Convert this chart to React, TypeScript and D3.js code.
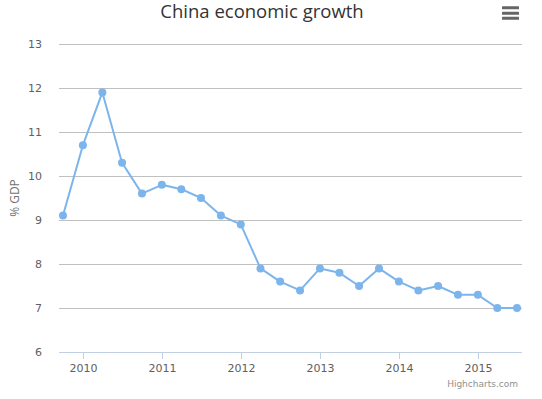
import React from "react";
import * as d3 from "d3";

const quarters: string[] = [
  "2009-10-01", "2010-01-01", "2010-04-01", "2010-07-01",
  "2010-10-01", "2011-01-01", "2011-04-01", "2011-07-01",
  "2011-10-01", "2012-01-01", "2012-04-01", "2012-07-01",
  "2012-10-01", "2013-01-01", "2013-04-01", "2013-07-01",
  "2013-10-01", "2014-01-01", "2014-04-01", "2014-07-01",
  "2014-10-01", "2015-01-01", "2015-04-01", "2015-07-01",
];
const growth: number[] = [
  9.1, 10.7, 11.9, 10.3, 9.6, 9.8, 9.7, 9.5, 9.1, 8.9, 7.9, 7.6,
  7.4, 7.9, 7.8, 7.5, 7.9, 7.6, 7.4, 7.5, 7.3, 7.3, 7.0, 7.0,
];
const yTicks: number[] = [6, 7, 8, 9, 10, 11, 12, 13];
const xTickYears: number[] = [2010, 2011, 2012, 2013, 2014, 2015];
const titleText = "China economic growth";
const yAxisTitle = "% GDP";
const creditText = "Highcharts.com";

const W = 542;
const H = 399;
const plotLeft = 59;
const plotRight = 522;
const plotTop = 44;
const plotBottom = 352;

const parse = d3.utcParse("%Y-%m-%d");

export default function App() {
  const dates = quarters.map((q) => parse(q) as Date);
  const x = d3
    .scaleUtc()
    .domain([dates[0], dates[dates.length - 1]])
    .range([63, 517]);
  const y = d3.scaleLinear().domain([6, 13]).range([plotBottom, plotTop]);
  const pts = dates.map((d, i) => [x(d), y(growth[i])] as [number, number]);
  const line = d3.line<[number, number]>()(pts) || "";
  const font = "'Open Sans', 'DejaVu Sans', sans-serif";
  const axisFont = "'DejaVu Sans', sans-serif";

  return (
    <svg
      width={W}
      height={H}
      style={{ position: "absolute", left: 0, top: 0, background: "#fff" }}
      fontFamily={font}
    >
      <text x={262} y={18} textAnchor="middle" fontSize={18.5} fill="#333333">
        {titleText}
      </text>
      <g fill="#666666">
        {[7.7, 13.2, 18.3].map((yy) => (
          <rect key={yy} x={502} y={yy - 1.5} width={17} height={3} rx={0.5} />
        ))}
      </g>
      {yTicks.map((t) => (
        <g key={t}>
          {t !== 6 && (
            <line
              x1={plotLeft}
              x2={plotRight}
              y1={Math.round(y(t)) + 0.5}
              y2={Math.round(y(t)) + 0.5}
              stroke="#C0C0C0"
              strokeWidth={1}
            />
          )}
          <text
            x={42}
            y={y(t) + 4}
            textAnchor="end"
            fontSize={11}
            fontFamily={axisFont}
            fill="#606060"
          >
            {t}
          </text>
        </g>
      ))}
      <text
        transform={`translate(19,${(plotTop + plotBottom) / 2}) rotate(-90)`}
        textAnchor="middle"
        fontSize={12}
        fill="#707070"
      >
        {yAxisTitle}
      </text>
      <line
        x1={plotLeft}
        x2={plotRight}
        y1={plotBottom + 0.5}
        y2={plotBottom + 0.5}
        stroke="#C0D0E0"
      />
      {xTickYears.map((yr) => {
        const xp = Math.round(x(new Date(Date.UTC(yr, 0, 1)))) + 0.5;
        return (
          <g key={yr}>
            <line x1={xp} x2={xp} y1={plotBottom} y2={plotBottom + 7} stroke="#C0D0E0" />
            <text
              x={xp}
              y={371.5}
              textAnchor="middle"
              fontSize={11}
              fontFamily={axisFont}
              fill="#606060"
            >
              {yr}
            </text>
          </g>
        );
      })}
      <path d={line} fill="none" stroke="#7cb5ec" strokeWidth={2} strokeLinejoin="round" />
      {pts.map((p, i) => (
        <circle key={i} cx={p[0]} cy={p[1]} r={4} fill="#7cb5ec" />
      ))}
      <text x={518} y={387} textAnchor="end" fontSize={9} fontFamily={axisFont} fill="#909090">
        {creditText}
      </text>
    </svg>
  );
}
